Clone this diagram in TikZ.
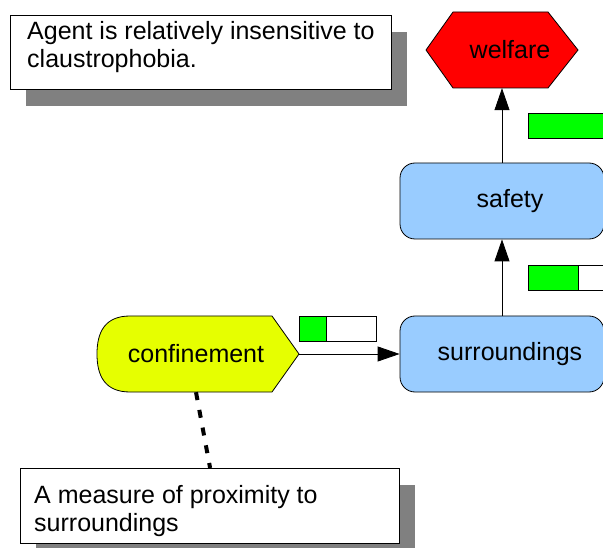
\documentclass[tikz,border=0pt]{standalone}
\usepackage{fontspec}
\setmainfont{Liberation Sans}
\usetikzlibrary{arrows.meta}

\definecolor{welfarered}{HTML}{FF0000}
\definecolor{confyellow}{HTML}{E6FF00}
\definecolor{nodeblue}{HTML}{99CCFF}
\definecolor{bargreen}{HTML}{00FF00}

\tikzset{
    txt/.style={font=\fontsize{25}{28}\selectfont},
    block/.style={txt, draw, fill=nodeblue, rounded corners=15pt, line width=0.8pt,
        minimum width=204pt, minimum height=76pt, inner sep=0pt},
    note/.style={draw, fill=white, line width=1.2pt, anchor=north west, inner sep=0pt},
    notetext/.style={txt, align=left, anchor=north west, inner sep=0pt},
    shadow/.style={fill=black!50},
    link/.style={line width=0.8pt, -{Triangle[length=22pt, width=15pt]}},
    dashlink/.style={line width=4pt, dash pattern=on 8pt off 10pt},
    bar/.style={draw, line width=0.8pt}
}

\begin{document}
\begin{tikzpicture}[x=1pt, y=-1pt]
    \useasboundingbox (0,0) rectangle (603,548);
    \clip (0,0) rectangle (603,548);

    % Notes with their shadows
    \fill[shadow] (26,32) rectangle (407,106);
    \node[note, minimum width=381pt, minimum height=74pt] (insens) at (10,15) {};
    \node[notetext] (insens text) at (27,21) {Agent is relatively insensitive to\\claustrophobia.};

    \fill[shadow] (36,485) rectangle (415,562);
    \node[note, minimum width=379pt, minimum height=75pt] (measure) at (20,468) {};
    \node[notetext] (measure text) at (34,485) {A measure of proximity to\\surroundings};

    % Welfare (hexagon)
    \draw[fill=welfarered, line width=0.8pt] (426,50) -- (453,12) -- (548,12) -- (578,50) -- (548,88) -- (453,88) -- cycle;
    \node[txt, minimum width=152pt, minimum height=76pt, inner sep=0pt] (welfare) at (502,50) {\hspace*{16pt}welfare};

    % Confinement
    \draw[fill=confyellow, line width=0.8pt] (272,316) -- (299,354) -- (272,392) -- (130,392)
        .. controls (105,392) and (97,376) .. (97,354)
        .. controls (97,332) and (105,316) .. (130,316) -- cycle;
    \node[txt, minimum width=202pt, minimum height=76pt, inner sep=0pt] (conf) at (196,354) {confinement};
    \coordinate (conf tip) at (299,354);

    % Blue nodes
    \node[block] (safety) at (502,201) {\hspace*{16pt}safety};
    \node[block] (surr) at (502,354) {\hspace*{16pt}surroundings};

    % Connectors
    \draw[link] (surr) -- (safety);
    \draw[link] (safety) -- (welfare);
    \draw[link] (conf tip) -- (surr);
    \draw[dashlink] (conf.south) -- (measure.north);

    % Bars
    \foreach \x/\y/\v in {528/113/77, 528/265/50, 299/316/27} {
        \draw[bar, fill=white] (\x,\y) rectangle ++(77,25);
        \draw[bar, fill=bargreen] (\x,\y) rectangle ++(\v,25);
    }
\end{tikzpicture}
\end{document}
